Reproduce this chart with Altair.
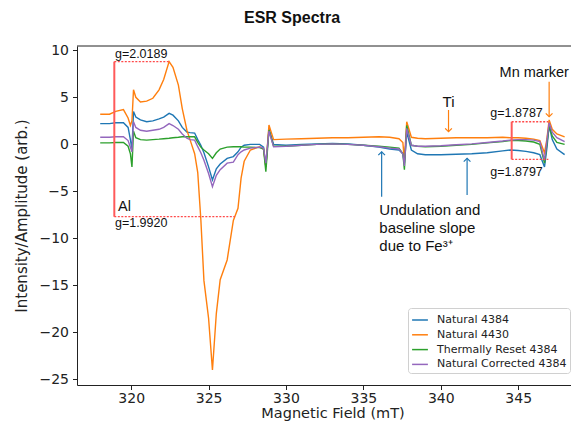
import altair as alt
import pandas as pd

# ---------------- data ----------------
field_mT = [318.0, 318.6, 319.0, 319.5, 319.8, 319.95, 320.05, 320.15, 320.3, 320.6,
            321.0, 321.4, 321.8, 322.1, 322.45, 322.7, 323.05, 323.3, 323.6, 323.8,
            324.1, 324.3, 324.5, 324.7, 325.0, 325.25, 325.5, 325.75, 326.2, 326.6,
            326.9, 327.1, 327.3, 327.7, 328.3, 328.55, 328.7, 328.9, 329.2, 330.0,
            331.0, 332.0, 333.0, 334.0, 335.0, 336.0, 336.7, 337.3, 337.55, 337.65,
            337.8, 338.1, 338.5, 339.0, 340.0, 341.0, 342.0, 343.0, 344.0, 344.5,
            345.0, 345.5, 346.0, 346.4, 346.7, 346.85, 347.0, 347.2, 347.5, 348.0]

natural_4384 = [2.2, 2.2, 2.3, 2.3, 1.8, 0.5, -0.6, 3.5, 2.9, 2.6,
                2.4, 2.5, 2.7, 2.9, 3.3, 3.1, 2.5, 1.8, 1.3, 1.25,
                1.2, 0.5, -0.1, -0.9, -2.4, -3.8, -2.6, -2.1, -1.5, -1.3,
                -0.8, -0.3, -0.1, 0.0, 0.0, -0.3, -2.4, 1.7, 0.0, -0.1,
                0.0, 0.05, 0.1, 0.05, -0.1, -0.3, -0.5, -0.6, -1.0, -2.0,
                1.3, -0.6, -1.0, -1.1, -1.1, -1.05, -1.0, -0.9, -0.7, -0.6,
                -0.65, -0.75, -0.9, -1.1, -2.4, -0.5, 2.0, 0.5, -0.5, -1.1]

natural_4430 = [3.2, 3.2, 3.5, 3.7, 2.8, 2.0, 2.5, 5.8, 5.0, 4.5,
                4.6, 4.9, 5.8, 6.9, 8.8, 8.2, 6.3, 3.8, 1.5, 0.5,
                -1.0, -3.0, -8.0, -14.5, -18.5, -24.0, -18.0, -14.4, -12.3, -8.1,
                -6.8, -3.6, -1.8, -0.6, -0.25, -0.5, -2.4, 2.05, 0.5, 0.55,
                0.6, 0.65, 0.7, 0.7, 0.75, 0.8, 0.75, 0.6, 0.2, -1.7,
                2.4, 0.75, 0.65, 0.6, 0.65, 0.7, 0.7, 0.7, 0.75, 0.7,
                0.7, 0.65, 0.55, 0.4, -0.9, 0.5, 2.6, 1.6, 1.1, 0.8]

thermally_reset_4384 = [0.15, 0.15, 0.2, 0.2, -0.2, -1.0, -2.4, 1.4, 0.7, 0.5,
                        0.45, 0.5, 0.55, 0.6, 0.65, 0.7, 0.75, 0.8, 0.8, 0.8,
                        0.8, 0.2, -0.3, -0.6, -1.0, -1.5, -0.9, -0.5, -0.3, -0.25,
                        -0.25, -0.25, -0.3, -0.3, -0.35, -0.5, -2.9, 1.5, -0.2, -0.2,
                        -0.1, 0.0, 0.05, 0.0, -0.1, -0.2, -0.3, -0.4, -1.0, -2.7,
                        2.0, -0.1, -0.2, -0.25, -0.2, -0.1, 0.0, 0.15, 0.3, 0.4,
                        0.4, 0.35, 0.25, 0.0, -2.0, 0.0, 2.0, 0.9, 0.2, 0.0]

natural_corrected_4384 = [0.75, 0.75, 0.8, 0.8, 0.4, -0.3, -0.8, 2.4, 1.8, 1.5,
                          1.4, 1.5, 1.6, 1.8, 2.2, 2.0, 1.6, 1.1, 0.65, 0.5,
                          0.45, -0.25, -0.9, -1.7, -3.1, -4.5, -3.3, -2.7, -2.0, -1.9,
                          -1.1, -0.8, -0.6, -0.4, -0.3, -0.4, -2.0, 1.4, -0.25, -0.2,
                          -0.1, 0.0, 0.05, 0.0, -0.1, -0.25, -0.4, -0.5, -1.0, -2.3,
                          1.7, -0.1, -0.2, -0.2, -0.15, -0.05, 0.05, 0.2, 0.35, 0.45,
                          0.5, 0.5, 0.45, 0.3, -1.7, 0.3, 2.3, 1.3, 0.7, 0.3]

series_names = ["Natural 4384", "Natural 4430", "Thermally Reset 4384", "Natural Corrected 4384"]
series_colors = ["#1f77b4", "#ff7f0e", "#2ca02c", "#9467bd"]

x_ticks = [320, 325, 330, 335, 340, 345]
y_ticks = [-25, -20, -15, -10, -5, 0, 5, 10]

# g-factor marker boxes (solid vertical edge + dotted horizontal edges)
box_edge_x = [318.91, 344.58]
box_edge_top = [8.8, 2.4]
box_edge_bottom = [-7.7, -1.6]
dotted_x_start = [318.91, 318.91, 344.58, 344.58]
dotted_x_end = [322.5, 326.7, 346.95, 346.95]
dotted_y = [8.8, -7.7, 2.4, -1.6]

g_label_text = ["g=2.0189", "g=1.9920", "g=1.8787", "g=1.8797"]
g_label_x = [318.95, 318.95, 343.2, 343.2]
g_label_y = [9.6, -8.37, 3.33, -2.9]

big_label_text = ["Al", "Mn marker"]
big_label_x = [319.15, 343.8]
big_label_y = [-6.67, 7.59]

ti_text = ["Ti"]
ti_x = [340.5]
ti_y = [4.53]

fe_text = ["Undulation and\nbaseline slope\ndue to Fe³⁺"]
fe_x = [336.03]
fe_y = [-6.19]

arrow_x = [340.5, 347.0, 336.18, 341.7]
arrow_start = [3.65, 6.66, -5.57, -5.39]
arrow_tip = [1.34, 2.94, -0.79, -1.49]
arrow_color = ["#ff7f0e", "#ff7f0e", "#1f77b4", "#1f77b4"]
arrow_head = ["M-1,-1L0,0L1,-1", "M-1,-1L0,0L1,-1", "M-1,1L0,0L1,1", "M-1,1L0,0L1,1"]

# ---------------- tables ----------------
rows = []
for name, vals in zip(series_names, [natural_4384, natural_4430,
                                     thermally_reset_4384, natural_corrected_4384]):
    for i, (xv, yv) in enumerate(zip(field_mT, vals)):
        rows.append({"field": xv, "value": yv, "series": name, "order": i})
spectra = pd.DataFrame(rows)

edges = pd.DataFrame({"x": box_edge_x, "y": box_edge_top, "y2": box_edge_bottom})
dotted = pd.DataFrame({"x": dotted_x_start, "x2": dotted_x_end, "y": dotted_y})
g_labels = pd.DataFrame({"x": g_label_x, "y": g_label_y, "t": g_label_text})
big_labels = pd.DataFrame({"x": big_label_x, "y": big_label_y, "t": big_label_text})
ti_label = pd.DataFrame({"x": ti_x, "y": ti_y, "t": ti_text})
fe_label = pd.DataFrame({"x": fe_x, "y": fe_y, "t": fe_text})
arrows = pd.DataFrame({"x": arrow_x, "y": arrow_start, "y2": arrow_tip,
                       "c": arrow_color, "head": arrow_head})

# ---------------- layout ----------------
PLOT_W = 494          # plot runs off the right edge of the window in the reference
PLOT_H = 339

x_scale = alt.Scale(domain=[316.5, 316.5 + PLOT_W / 15.48], nice=False, zero=False)
y_scale = alt.Scale(domain=[-25.6, 10.46], nice=False, zero=False)
x_axis = alt.Axis(values=x_ticks, title="Magnetic Field (mT)", titleX=255.5, titleY=28,
                  titleBaseline="middle", titleAlign="center", labelPadding=2,
                  titleFontSize=14.5)
y_axis = alt.Axis(values=y_ticks, title="Intensity/Amplitude (arb.)", titleX=-55.5,
                  titleY=PLOT_H / 2, titleBaseline="middle", titleAlign="center",
                  labelPadding=4)


def X(f):
    return alt.X(f, scale=x_scale, axis=x_axis)


def Y(f):
    return alt.Y(f, scale=y_scale, axis=y_axis)


lines = alt.Chart(spectra).mark_line(strokeWidth=1.4).encode(
    x=X("field:Q"),
    y=Y("value:Q"),
    color=alt.Color("series:N",
                    scale=alt.Scale(domain=series_names, range=series_colors),
                    legend=alt.Legend(title=None, orient="none", legendX=331, legendY=262,
                                      symbolType="stroke", symbolSize=250,
                                      symbolStrokeWidth=1.5, labelFont="DejaVu Sans",
                                      labelFontSize=11, labelColor="#222",
                                      strokeColor="#d0d0d0", fillColor="white",
                                      padding=3, cornerRadius=3, rowPadding=0.8,
                                      labelOffset=8, labelLimit=300)),
    order="order:Q",
)

edge_rules = alt.Chart(edges).mark_rule(color="#ff5a5a", strokeWidth=2).encode(
    x=X("x:Q"), y=Y("y:Q"), y2="y2:Q")

dotted_rules = alt.Chart(dotted).mark_rule(color="#ff4a4a", strokeWidth=1.3,
                                           strokeDash=[2, 1.5]).encode(
    x=X("x:Q"), x2="x2:Q", y=Y("y:Q"))

g_text = alt.Chart(g_labels).mark_text(align="left", baseline="middle",
                                       font="Liberation Sans", fontSize=12.5,
                                       color="#111").encode(
    x=X("x:Q"), y=Y("y:Q"), text="t:N")

big_text = alt.Chart(big_labels).mark_text(align="left", baseline="middle",
                                           font="Liberation Sans", fontSize=14.5,
                                           color="#111").encode(
    x=X("x:Q"), y=Y("y:Q"), text="t:N")

ti_txt = alt.Chart(ti_label).mark_text(align="center", baseline="middle",
                                       font="Liberation Sans", fontSize=15,
                                       color="#111").encode(
    x=X("x:Q"), y=Y("y:Q"), text="t:N")

fe_txt = alt.Chart(fe_label).mark_text(align="left", baseline="top",
                                       font="Liberation Sans", fontSize=15,
                                       lineBreak="\n", lineHeight=18,
                                       color="#111").encode(
    x=X("x:Q"), y=Y("y:Q"), text="t:N")

arrow_shafts = alt.Chart(arrows).mark_rule(strokeWidth=1.2).encode(
    x=X("x:Q"), y=Y("y:Q"), y2="y2:Q", stroke=alt.Stroke("c:N", scale=None))

arrow_heads = alt.Chart(arrows).mark_point(filled=False, strokeWidth=1.2, size=45,
                                           opacity=1).encode(
    x=X("x:Q"), y=Y("y2:Q"), shape=alt.Shape("head:N", scale=None),
    stroke=alt.Stroke("c:N", scale=None))

# top spine (right spine lies outside the window in the reference)
top_spine = alt.Chart(pd.DataFrame({"k": [0]})).mark_rule(
    color="#222", strokeWidth=1).encode(
    x=alt.value(0), x2=alt.value(PLOT_W), y=alt.value(0))

chart = alt.layer(
    lines, edge_rules, dotted_rules, arrow_shafts, arrow_heads,
    g_text, big_text, ti_txt, fe_txt, top_spine,
).properties(
    width=PLOT_W,
    height=PLOT_H,
    padding={"left": 69, "top": 38, "right": 0, "bottom": 38},
    autosize=alt.AutoSizeParams(type="none"),
    title=alt.TitleParams("ESR Spectra", font="Liberation Sans", fontSize=16,
                          fontWeight="bold", anchor="middle", dx=-32, offset=17,
                          color="#111"),
).configure_view(
    stroke=None,
).configure_axis(
    labelFont="DejaVu Sans", labelFontSize=14, labelColor="#222",
    titleFont="DejaVu Sans", titleFontSize=15, titleFontWeight="normal", titleColor="#222",
    tickColor="#222", domainColor="#222", tickSize=4.5, grid=False,
)

chart.save("out.html", embed_options={"renderer": "svg", "actions": False})
